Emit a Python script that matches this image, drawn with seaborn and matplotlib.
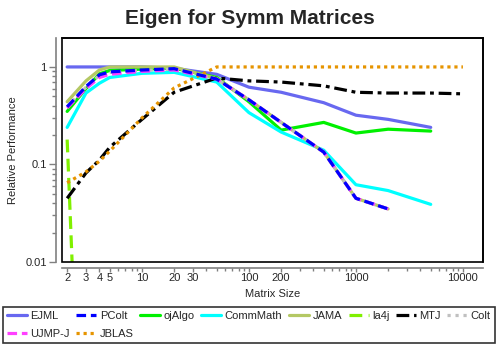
import numpy as np
import pandas as pd
import matplotlib
matplotlib.use("Agg")
import matplotlib.pyplot as plt
import matplotlib.ticker as mticker
from matplotlib.lines import Line2D
from matplotlib.patches import Rectangle
import seaborn as sns

sns.set_style("white")
plt.rcParams['font.family'] = ['Liberation Sans', 'DejaVu Sans']

# matrix sizes used by the benchmark
sizes = [2, 3, 4, 5, 10, 20, 50, 100, 200, 500, 1000, 2000, 5000, 10000]

# relative performance
ejml = [1.0, 1.0, 1.0, 1.0, 1.0, 0.97, 0.84, 0.62, 0.55, 0.43, 0.32, 0.29, 0.24]
pcolt = [0.39, 0.63, 0.83, 0.89, 0.93, 0.96, 0.75, 0.46, 0.27, 0.134, 0.045, 0.035]
ojalgo = [0.35, 0.60, 0.85, 0.92, 0.95, 0.97, 0.78, 0.44, 0.225, 0.27, 0.21, 0.23, 0.22]
commmath = [0.24, 0.54, 0.68, 0.78, 0.86, 0.88, 0.70, 0.34, 0.215, 0.14, 0.062, 0.054, 0.039]
jama = [0.44, 0.72, 0.93, 1.0, 1.0, 1.0, 0.76, 0.46, 0.27, 0.134, 0.045, 0.035]
la4j = [0.18, 3e-6]
mtj = [0.045, 0.082, 0.111, 0.15, 0.29, 0.55, 0.77, 0.72, 0.70, 0.64, 0.55, 0.54, 0.54, 0.53]
colt = [0.39, 0.62, 0.82, 0.88, 0.92, 0.95, 0.75, 0.46, 0.27, 0.134, 0.045, 0.035]
ujmp = [0.38, 0.60, 0.78, 0.84, 0.90, 0.93, 0.75, 0.46, 0.27, 0.134, 0.045, 0.035]
jblas = [0.065, 0.084, 0.108, 0.137, 0.30, 0.61, 1.0, 1.0, 1.0, 1.0, 1.0, 1.0, 1.0, 1.0]

libs = ["EJML", "PColt", "ojAlgo", "CommMath", "JAMA", "la4j", "MTJ", "Colt", "UJMP-J", "JBLAS"]
series = [ejml, pcolt, ojalgo, commmath, jama, la4j, mtj, colt, ujmp, jblas]

colors = {"EJML": "#6868f0", "PColt": "#0000ff", "ojAlgo": "#00f000", "CommMath": "#00ffff",
          "JAMA": "#b4c864", "la4j": "#80f000", "MTJ": "#000000", "Colt": "#c0c0c0",
          "UJMP-J": "#ff40ff", "JBLAS": "#e69400"}
dashes = {"EJML": "", "PColt": (3, 1.5), "ojAlgo": "", "CommMath": "", "JAMA": "",
          "la4j": (4, 2), "MTJ": (4, 1.5, 1.2, 1.5), "Colt": (1, 1.5), "UJMP-J": (3, 1.5),
          "JBLAS": (1, 1.2)}

rows = []
for name, vals in zip(libs, series):
    for s, v in zip(sizes, vals):
        rows.append((name, s, v))
df = pd.DataFrame(rows, columns=["lib", "size", "perf"])

fig = plt.figure(figsize=(5, 3.5), dpi=100)
ax = fig.add_axes([0.124, 0.2514, 0.842, 0.64])

sns.lineplot(data=df, x="size", y="perf", hue="lib", style="lib", hue_order=libs,
             style_order=libs, palette=colors, dashes=dashes, linewidth=2.3,
             legend=False, ax=ax, sort=False)
for ln in ax.lines:
    ln.set_dash_capstyle("butt")
ax.lines[1].set_zorder(3)  # PColt on top

ax.set_xscale("log")
ax.set_yscale("log")
ax.set_xlim(1.79, 15400)
ax.set_ylim(0.01, 1.98)

ax.xaxis.set_major_locator(mticker.FixedLocator([2, 3, 4, 5, 10, 20, 30, 100, 200, 1000, 10000]))
ax.xaxis.set_major_formatter(mticker.FixedFormatter(["2", "3", "4", "5", "10", "20", "30",
                                                     "100", "200", "1000", "10000"]))
ax.xaxis.set_minor_locator(mticker.LogLocator(base=10, subs=np.arange(2, 10), numticks=20))
ax.xaxis.set_minor_formatter(mticker.NullFormatter())
ax.yaxis.set_major_locator(mticker.FixedLocator([0.01, 0.1, 1]))
ax.yaxis.set_major_formatter(mticker.FixedFormatter(["0.01", "0.1", "1"]))
ax.yaxis.set_minor_locator(mticker.LogLocator(base=10, subs=np.arange(2, 10), numticks=20))
ax.yaxis.set_minor_formatter(mticker.NullFormatter())

# gray offset axis lines with a black frame around the data area
for side in ["left", "bottom"]:
    ax.spines[side].set_position(("outward", 4))
    ax.spines[side].set_color("#808080")
    ax.spines[side].set_linewidth(1.2)
for side in ["top", "right"]:
    ax.spines[side].set_color("black")
    ax.spines[side].set_linewidth(1.2)
ax.add_patch(Rectangle((0, 0), 1, 1, transform=ax.transAxes, fill=False,
                       edgecolor="black", linewidth=1.2, clip_on=False, zorder=5))
ax.tick_params(which="both", direction="out", color="#808080", labelsize=8,
               left=True, bottom=True)
ax.tick_params(axis="y", which="major", length=5, width=1, pad=2)
ax.tick_params(axis="y", which="minor", length=3, width=1)
ax.tick_params(axis="x", which="major", length=3, width=1, pad=1)
ax.tick_params(axis="x", which="minor", length=2, width=1)

ax.set_xlabel("Matrix Size", fontsize=8, labelpad=4)
ax.set_ylabel("Relative Performance", fontsize=8, labelpad=5)
fig.suptitle("Eigen for Symm Matrices", fontsize=15, fontweight="bold", y=0.975)

handles = {n: Line2D([], [], color=colors[n], linewidth=2.3,
                     linestyle=(0, dashes[n]) if dashes[n] else "-", dash_capstyle="butt")
           for n in libs}
order = ["EJML", "UJMP-J", "PColt", "JBLAS", "ojAlgo", "CommMath", "JAMA", "la4j", "MTJ", "Colt"]
leg = fig.legend([handles[n] for n in order], order, ncol=8, loc="upper left",
                 bbox_to_anchor=(0.006, 1 - 307 / 350), fontsize=8, frameon=True,
                 fancybox=False, edgecolor="black", handlelength=1.8, handletextpad=0.3,
                 columnspacing=0.6, labelspacing=0.75, borderpad=0.35, borderaxespad=0)
leg.get_frame().set_linewidth(1.2)

fig.savefig("out.png", dpi=100)
